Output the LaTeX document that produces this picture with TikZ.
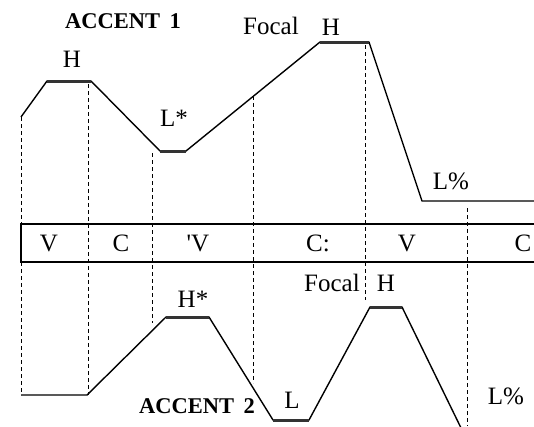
\documentclass[tikz,border=0pt]{standalone}
\usepackage{fontspec}
\setmainfont{Liberation Serif}
\begin{document}
\begin{tikzpicture}[x=1pt,y=-1pt,
  contour/.style={line width=1.4pt,line join=round},
  level/.style={line width=3pt,draw=black!80},
  guide/.style={line width=0.9pt,dash pattern=on 4pt off 3pt},
  cell/.style={line width=1.1pt},
  lab/.style={anchor=base,inner sep=0pt,font=\fontsize{25}{27}\selectfont},
  acc/.style={anchor=base,inner sep=0pt,font=\fontsize{22.5}{25}\selectfont\bfseries}]
\useasboundingbox[fill=white] (0,0) rectangle (534,426);
% top contour
\coordinate (t0) at (21,117);
\coordinate (t1) at (47,81);  \coordinate (t2) at (91,81);
\coordinate (t3) at (160,151); \coordinate (t4) at (186,151);
\coordinate (t5) at (320,42); \coordinate (t6) at (369,42);
\coordinate (t7) at (422,201); \coordinate (t8) at (534,201);
\draw[contour] (t0) -- (t1) -- (t2) -- (t3) -- (t4) -- (t5) -- (t6) -- (t7) -- (t8);
\draw[level] (t1) -- (t2); \draw[level] (t3) -- (t4); \draw[level] (t5) -- (t6);
% bottom contour
\coordinate (b0) at (21,395); \coordinate (b1) at (87,395);
\coordinate (b2) at (166,317); \coordinate (b3) at (209,317);
\coordinate (b4) at (273,420); \coordinate (b5) at (309,420);
\coordinate (b6) at (370,307); \coordinate (b7) at (402,307);
\coordinate (b8) at (462,430);
\draw[contour] (b0) -- (b1) -- (b2) -- (b3) -- (b4) -- (b5) -- (b6) -- (b7) -- (b8);
\draw[level] (b2) -- (b3); \draw[level] (b4) -- (b5); \draw[level] (b6) -- (b7);
% table
\draw[cell] (534,224) -- (21,224) -- (21,262) -- (534,262);
% guides
\draw[guide] (21,117) -- (21,224);
\draw[guide] (21,262) -- (21,395);
\draw[guide] (88,84) -- (88,395);
\draw[guide] (152,153) -- (152,323);
\draw[guide] (253,96) -- (253,383);
\draw[guide] (365,45) -- (365,300);
\draw[guide] (467,208) -- (467,426);
% table labels
\node[lab] (c1) at (49,251) {V};
\node[lab] (c2) at (121,251) {C};
\node[lab] (c3) at (198,251) {\textquotesingle V};
\node[lab] (c4) at (318,251) {C:};
\node[lab] (c5) at (407,251) {V};
\node[lab] (c6) at (523,251) {C};
% top labels
\node[acc] (a1) at (123,28) {ACCENT\ \,1};
\node[lab] (h1) at (72,67) {H};
\node[lab] (l1) at (174,126) {L*};
\node[lab] (f1) at (271,34) {Focal};
\node[lab] (h2) at (331,35) {H};
\node[lab] (p1) at (451,189) {L\%};
% bottom labels
\node[lab] (h3) at (193,307) {H*};
\node[lab] (f2) at (332,291) {Focal};
\node[lab] (h4) at (386,291) {H};
\node[acc] (a2) at (197,413) {ACCENT\ \,2};
\node[lab] (l2) at (292,408) {L};
\node[lab] (p2) at (506,404) {L\%};
\end{tikzpicture}
\end{document}
